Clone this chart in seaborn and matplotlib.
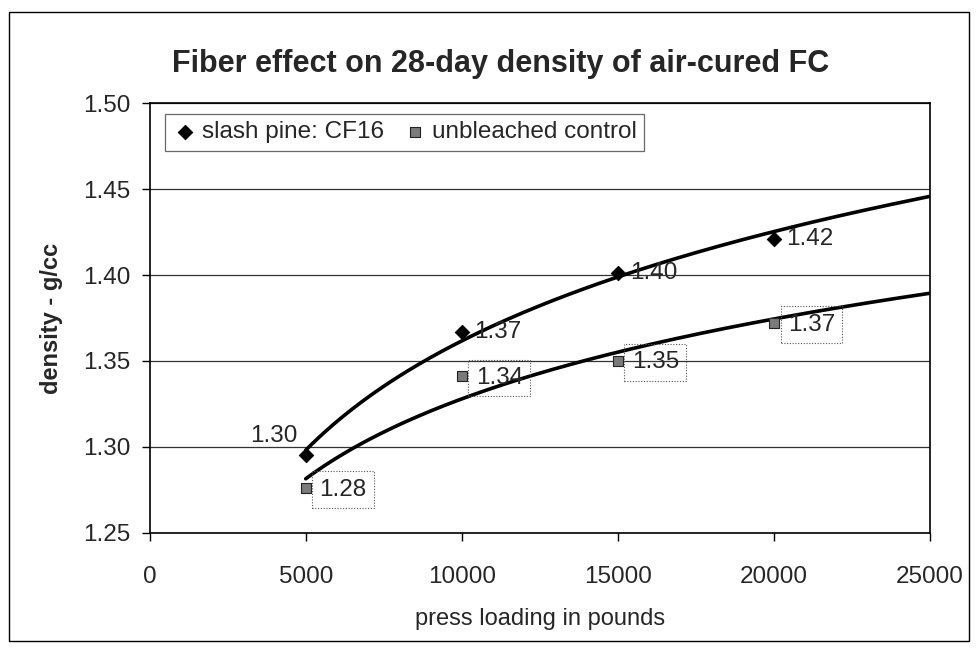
import numpy as np
import pandas as pd
import seaborn as sns
import matplotlib
matplotlib.use("Agg")
import matplotlib.pyplot as plt
from matplotlib.patches import Rectangle

# ---- data ----
press_load = [5000, 10000, 15000, 20000]
slash_pine = [1.295, 1.367, 1.401, 1.421]
slash_labels = ["1.30", "1.37", "1.40", "1.42"]
unbleached = [1.276, 1.341, 1.350, 1.372]
unbleached_labels = ["1.28", "1.34", "1.35", "1.37"]
x_ticks = [0, 5000, 10000, 15000, 20000, 25000]
y_ticks = [1.25, 1.30, 1.35, 1.40, 1.45, 1.50]

title = "Fiber effect on 28-day density of air-cured FC"
xlabel = "press loading in pounds"
ylabel = "density - g/cc"

sns.set_theme(style="white")
plt.rcParams["font.family"] = ["Liberation Sans", "DejaVu Sans"]

fig = plt.figure(figsize=(9.78, 6.49), dpi=100)
ax = fig.add_axes([0.153, 0.179, 0.798, 0.662])

df = pd.DataFrame({"x": press_load, "slash": slash_pine, "unb": unbleached})

# logarithmic trendlines (Excel style) from first point to axis end
xx = np.linspace(press_load[0], x_ticks[-1], 200)
for col in ["slash", "unb"]:
    b, a = np.polyfit(np.log(df["x"]), df[col], 1)
    sns.lineplot(x=xx, y=a + b * np.log(xx), ax=ax, color="black", lw=2.6, zorder=3)

sns.scatterplot(data=df, x="x", y="slash", ax=ax, marker="D", s=55, color="black",
                edgecolor="black", zorder=4, label="slash pine: CF16")
sns.scatterplot(data=df, x="x", y="unb", ax=ax, marker="s", s=50, color="#7a7a7a",
                edgecolor="#222222", linewidth=0.8, zorder=4, label="unbleached control")

# data labels
fs_lab = 17.5
for i, (xv, yv, t) in enumerate(zip(press_load, slash_pine, slash_labels)):
    if i == 0:
        ax.annotate(t, (xv, yv), xytext=(-23, 14), textcoords="offset points",
                    ha="center", va="center", fontsize=fs_lab, zorder=5)
    else:
        ax.annotate(t, (xv, yv), xytext=(9, 0), textcoords="offset points",
                    ha="left", va="center", fontsize=fs_lab, zorder=5)
for xv, yv, t in zip(press_load, unbleached, unbleached_labels):
    ax.annotate(t, (xv, yv), xytext=(10, -1), textcoords="offset points",
                ha="left", va="center", fontsize=fs_lab, zorder=5,
                bbox=dict(boxstyle="square,pad=0.3", fc="none", ec="#555555",
                          ls=(0, (1, 1.5)), lw=0.8))

ax.set_xlim(0, 25000)
ax.set_ylim(1.25, 1.50)
ax.set_xticks(x_ticks)
ax.set_yticks(y_ticks)
ax.set_xticklabels([str(v) for v in x_ticks], fontsize=17.5)
ax.set_yticklabels([f"{v:.2f}" for v in y_ticks], fontsize=17.5)
ax.yaxis.grid(True, color="#333333", lw=0.9)
ax.xaxis.grid(False)
ax.tick_params(axis="both", direction="out", length=6, width=1, color="black",
               left=True, bottom=True)
ax.tick_params(axis="y", pad=8)
ax.tick_params(axis="x", pad=18)
for s in ax.spines.values():
    s.set_color("black")
    s.set_linewidth(1.2)

ax.set_xlabel(xlabel, fontsize=17, labelpad=14)
ax.set_ylabel(ylabel, fontsize=17, fontweight="bold", labelpad=14)
fig.text(0.512, 0.902, title, fontsize=22, fontweight="bold", ha="center", va="center")

leg = ax.legend(loc="upper left", ncol=2, fontsize=17.5, frameon=True, fancybox=False,
                edgecolor="#444444", handletextpad=0.2, columnspacing=0.8,
                borderpad=0.3, handlelength=1.0, bbox_to_anchor=(0.02, 0.975),
                borderaxespad=0.0)
leg.get_frame().set_linewidth(0.9)

# outer frame of the chart area
fig.patches.append(Rectangle((0.009, 0.012), 0.982, 0.97, transform=fig.transFigure,
                             fill=False, ec="black", lw=1.0))

fig.savefig("out.png", dpi=100)
